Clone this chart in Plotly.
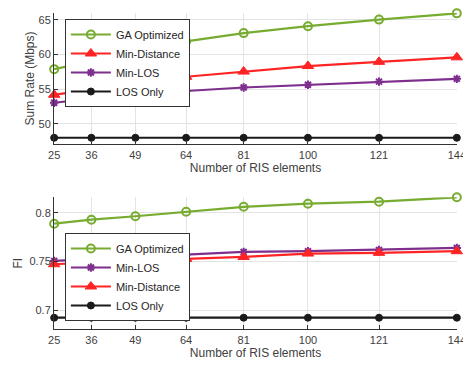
import plotly.graph_objects as go

ris = [25, 36, 49, 64, 81, 100, 121, 144]
tick_labels = ["25", "36", "49", "64", "81", "100", "121", "144"]

# Top: Sum rate (Mbps)
sr_ga = [57.9, 59.0, 60.4, 61.9, 63.1, 64.1, 65.05, 65.95]
sr_mindist = [54.2, 55.0, 55.95, 56.8, 57.55, 58.35, 58.95, 59.6]
sr_minlos = [53.05, 53.65, 54.2, 54.75, 55.25, 55.65, 56.1, 56.5]
sr_los = [48.0, 48.0, 48.0, 48.0, 48.0, 48.0, 48.0, 48.0]

# Bottom: FI
fi_ga = [0.7887, 0.7928, 0.7963, 0.801, 0.806, 0.8092, 0.8113, 0.8158]
fi_minlos = [0.7504, 0.7522, 0.7540, 0.7563, 0.7597, 0.7604, 0.7617, 0.7638]
fi_mindist = [0.747, 0.749, 0.751, 0.7525, 0.7545, 0.758, 0.7587, 0.7604]
fi_los = [0.6921] * 8

GREEN = "#77AC30"
RED = "#FF2424"
PURPLE = "#7E2F8E"
BLACK = "#1A1A1A"

styles = {
    "GA Optimized": dict(color=GREEN, symbol="circle-open", size=8, mlw=2),
    "Min-Distance": dict(color=RED, symbol="triangle-up", size=10, mlw=1),
    "Min-LOS": dict(color=PURPLE, symbol="asterisk-open", size=7, mlw=2),
    "LOS Only": dict(color=BLACK, symbol="circle", size=7, mlw=1),
}

fig = go.Figure()

def add(name, y, xa, ya, legend):
    s = styles[name]
    fig.add_trace(go.Scatter(
        x=ris, y=y, name=name, mode="lines+markers",
        line=dict(color=s["color"], width=2.2),
        marker=dict(symbol=s["symbol"], size=s["size"], color=s["color"],
                    line=dict(color=s["color"], width=s["mlw"])),
        xaxis=xa, yaxis=ya, legend=legend, cliponaxis=False,
    ))

add("GA Optimized", sr_ga, "x", "y", "legend")
add("Min-Distance", sr_mindist, "x", "y", "legend")
add("Min-LOS", sr_minlos, "x", "y", "legend")
add("LOS Only", sr_los, "x", "y", "legend")

add("GA Optimized", fi_ga, "x2", "y2", "legend2")
add("Min-LOS", fi_minlos, "x2", "y2", "legend2")
add("Min-Distance", fi_mindist, "x2", "y2", "legend2")
add("LOS Only", fi_los, "x2", "y2", "legend2")

FONT = "Liberation Sans, Arial, sans-serif"
TICKC = "#404040"
axis_common = dict(
    showgrid=True, gridcolor="#E3E3E3", gridwidth=1,
    showline=True, linecolor="#333333", linewidth=1,
    ticks="inside", ticklen=4, tickcolor="#333333",
    tickfont=dict(size=11, color=TICKC, family=FONT),
    zeroline=False, mirror=False, ticklabeloverflow="allow",
    automargin=False,
)

xcommon = dict(axis_common, range=[24.95, 144.05], tickvals=ris, ticktext=tick_labels,
               ticklabelstandoff=1,
               title=dict(text="Number of RIS elements", font=dict(size=12, color=TICKC, family=FONT), standoff=3))

fig.update_layout(
    width=463, height=366,
    margin=dict(l=54, r=6, t=13, b=37),
    paper_bgcolor="white", plot_bgcolor="white",
    font=dict(family=FONT, size=11, color=TICKC),
    xaxis=dict(xcommon, domain=[0, 1], anchor="y"),
    yaxis=dict(axis_common, domain=[0.5854, 1.0], anchor="x", range=[47.1, 66.0],
               tickvals=[50, 55, 60, 65],
               title=dict(text="Sum Rate (Mbps)", font=dict(size=12, color=TICKC, family=FONT), standoff=1)),
    xaxis2=dict(xcommon, domain=[0, 1], anchor="y2"),
    yaxis2=dict(axis_common, domain=[0, 0.4168], anchor="x2", range=[0.6805, 0.8158],
                tickvals=[0.7, 0.75, 0.8], ticktext=["0.7", "0.75", "0.8"],
                title=dict(text="FI", font=dict(size=12, color=TICKC, family=FONT), standoff=4)),
    legend=dict(x=0.027, y=0.981, xanchor="left", yanchor="top",
                bgcolor="white", bordercolor="#333333", borderwidth=1,
                font=dict(size=11, color="#262626", family=FONT),
                itemwidth=40, tracegroupgap=0),
    legend2=dict(x=0.027, y=0.3038, xanchor="left", yanchor="top",
                 bgcolor="white", bordercolor="#333333", borderwidth=1,
                 font=dict(size=11, color="#262626", family=FONT),
                 itemwidth=40, tracegroupgap=0),
    showlegend=True,
)

fig.write_html("out.html", config={"displayModeBar": False},
               post_script="document.body.style.margin='0';")
